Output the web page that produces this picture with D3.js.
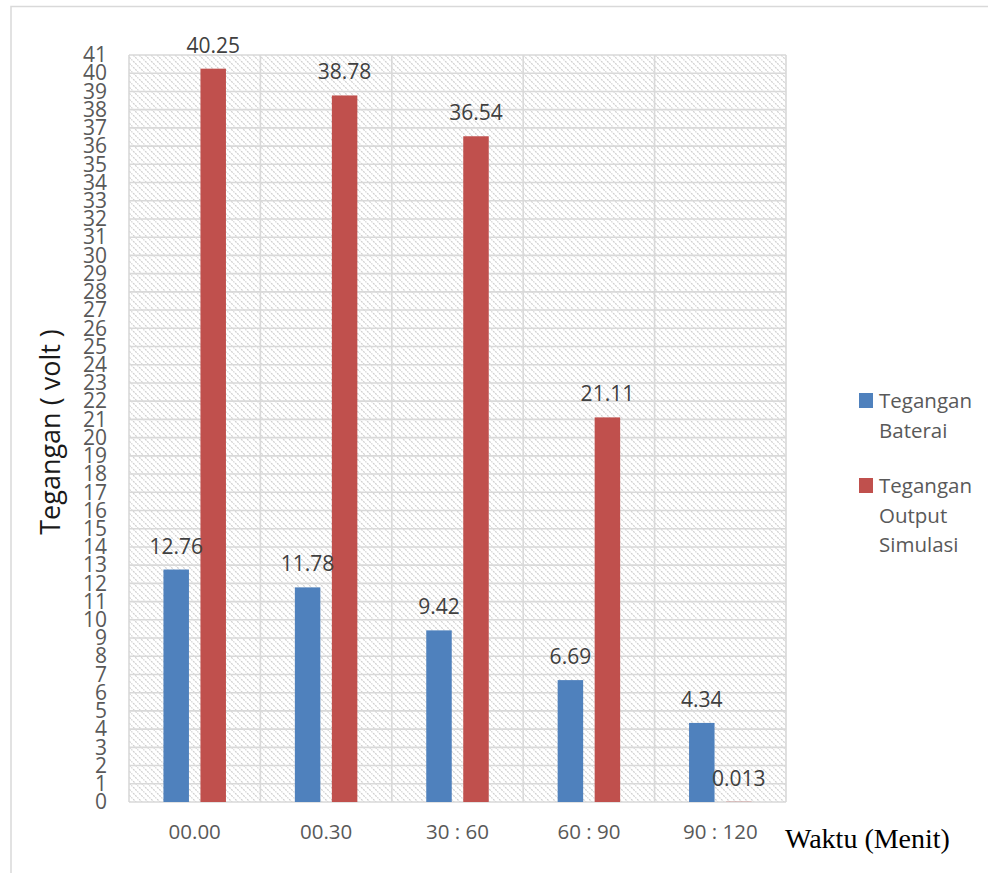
<!DOCTYPE html>
<html>
<head>
<meta charset="utf-8">
<script src="https://cdn.jsdelivr.net/npm/d3@7/dist/d3.min.js"></script>
<style>
  html, body { margin: 0; padding: 0; background: #ffffff; }
  svg { display: block; }
</style>
</head>
<body>
<svg id="chart" width="988" height="873"></svg>
<script>
// Time intervals (minutes) and measured voltages
const categories = ["00.00", "00.30", "30 : 60", "60 : 90", "90 : 120"];
const seriesNames = ["Tegangan Baterai", "Tegangan Output Simulasi"];
const bateraiValues = [12.76, 11.78, 9.42, 6.69, 4.34];
const outputValues = [40.25, 38.78, 36.54, 21.11, 0.013];
const yMax = 41;
const yTickValues = d3.range(0, yMax + 1);
const legendLines = [["Tegangan", "Baterai"], ["Tegangan", "Output", "Simulasi"]];

const colors = ["#4f81bd", "#c0504d"];
const labelFont = "'Open Sans', 'Noto Sans', sans-serif";

const svg = d3.select("#chart");

// outer chart frame
svg.append("rect")
  .attr("x", 11).attr("y", 6.5)
  .attr("width", 1000).attr("height", 1000)
  .attr("fill", "none")
  .attr("stroke", "#d9d9d9")
  .attr("stroke-width", 1.5);

const plot = { left: 129, right: 786, top: 55, bottom: 802 };

const x0 = d3.scaleBand()
  .domain(categories)
  .range([plot.left, plot.right])
  .paddingInner(0).paddingOuter(0);

const x1 = d3.scaleBand()
  .domain(seriesNames)
  .range([0, x0.bandwidth()])
  .paddingInner(0.311)
  .paddingOuter(0.931);

const y = d3.scaleLinear()
  .domain([0, yMax])
  .range([plot.bottom, plot.top]);

// diagonal hatch fill for the plot area
const defs = svg.append("defs");
const pat = defs.append("pattern")
  .attr("id", "hatch")
  .attr("patternUnits", "userSpaceOnUse")
  .attr("width", 6).attr("height", 6);
pat.append("rect").attr("width", 6).attr("height", 6).attr("fill", "#ffffff");
pat.append("path")
  .attr("d", "M-1,-1 L7,7 M-1,5 L1,7 M5,-1 L7,1")
  .attr("stroke", "#cfcfcf")
  .attr("stroke-width", 1.2)
  .attr("stroke-dasharray", "2,1");

svg.append("rect")
  .attr("x", plot.left).attr("y", plot.top)
  .attr("width", plot.right - plot.left)
  .attr("height", plot.bottom - plot.top)
  .attr("fill", "url(#hatch)");

// gridlines
const grid = svg.append("g").attr("stroke", "#d9d9d9").attr("stroke-width", 1.6);
grid.selectAll("line.h")
  .data(yTickValues)
  .join("line")
  .attr("class", "h")
  .attr("x1", plot.left).attr("x2", plot.right)
  .attr("y1", d => y(d)).attr("y2", d => y(d));

const vBounds = categories.map(c => x0(c)).concat([x0(categories[categories.length - 1]) + x0.bandwidth()]);
grid.selectAll("line.v")
  .data(vBounds)
  .join("line")
  .attr("class", "v")
  .attr("x1", d => d).attr("x2", d => d)
  .attr("y1", plot.top).attr("y2", plot.bottom);

// y axis labels
const yAxis = d3.axisLeft(y).tickValues(yTickValues).tickSize(0).tickPadding(22).tickFormat(d3.format("d"));
const yG = svg.append("g")
  .attr("transform", `translate(${plot.left},0)`)
  .call(yAxis);
yG.select(".domain").remove();
yG.selectAll("text")
  .attr("font-family", labelFont)
  .attr("font-size", 21)
  .attr("fill", "#595959");

// x axis labels
const xAxis = d3.axisBottom(x0).tickSize(0).tickPadding(22);
const xG = svg.append("g")
  .attr("transform", `translate(0,${plot.bottom})`)
  .call(xAxis);
xG.select(".domain").remove();
xG.selectAll("text")
  .attr("font-family", labelFont)
  .attr("font-size", 20.5)
  .attr("fill", "#595959");

// bars
const rows = categories.map((c, i) => ({
  category: c,
  values: [
    { series: seriesNames[0], value: bateraiValues[i], color: colors[0] },
    { series: seriesNames[1], value: outputValues[i], color: colors[1] }
  ]
}));

const groups = svg.append("g").selectAll("g")
  .data(rows)
  .join("g")
  .attr("transform", d => `translate(${x0(d.category)},0)`);

groups.selectAll("rect")
  .data(d => d.values)
  .join("rect")
  .attr("x", d => x1(d.series))
  .attr("width", x1.bandwidth())
  .attr("y", d => y(d.value))
  .attr("height", d => y(0) - y(d.value))
  .attr("fill", d => d.color);

// value labels
groups.selectAll("text")
  .data(d => d.values)
  .join("text")
  .attr("x", d => x1(d.series) + x1.bandwidth() / 2)
  .attr("y", d => y(d.value) - 16)
  .attr("text-anchor", "middle")
  .attr("font-family", labelFont)
  .attr("font-size", 21)
  .attr("fill", "#404040")
  .text(d => String(d.value));

// axis titles
svg.append("text")
  .attr("transform", "translate(60,432) rotate(-90)")
  .attr("text-anchor", "middle")
  .attr("font-family", labelFont)
  .attr("font-size", 27)
  .attr("fill", "#1a1a1a")
  .text("Tegangan ( volt )");

svg.append("text")
  .attr("x", 785).attr("y", 848)
  .attr("font-family", "'Liberation Serif', 'Times New Roman', serif")
  .attr("font-size", 28)
  .attr("fill", "#000000")
  .text("Waktu (Menit)");

// legend
const legend = svg.append("g");
const legendTop = [393, 478];
legendLines.forEach((lines, i) => {
  legend.append("rect")
    .attr("x", 859).attr("y", legendTop[i])
    .attr("width", 14).attr("height", 15)
    .attr("fill", colors[i]);
  const t = legend.append("text")
    .attr("font-family", labelFont)
    .attr("font-size", 20.5)
    .attr("fill", "#595959");
  lines.forEach((line, j) => {
    t.append("tspan")
      .attr("x", 879)
      .attr("y", legendTop[i] + 15 + j * 29.5)
      .text(line);
  });
});
</script>
</body>
</html>
